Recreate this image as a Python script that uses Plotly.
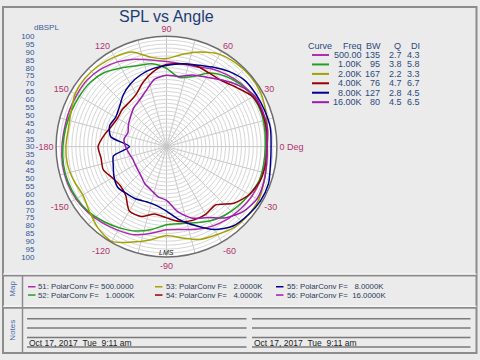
import plotly.graph_objects as go

W, H = 480, 360

# ---------------- data ----------------
angles = list(range(0, 360, 10))  # degrees, 0 = front, counter-clockwise

spl_500 = [93.2, 93.8, 94.4, 93.8, 92.0, 89.5, 87.0, 83.9, 83.3, 83.9, 85.8, 88.9,
           92.0, 94.4, 95.7, 95.7, 95.7, 95.7, 96.3, 96.9, 96.9, 96.3, 95.0, 93.2,
           91.3, 89.5, 85.8, 82.7, 83.3, 85.8, 88.2, 90.1, 91.3, 92.6, 93.2, 93.2]
spl_1k = [92.6, 93.2, 93.8, 93.2, 91.3, 88.2, 83.9, 77.1, 74.6, 79.6, 83.3, 84.5,
          87.6, 91.3, 93.2, 93.8, 94.4, 95.0, 95.7, 96.3, 96.3, 95.7, 94.4, 92.0,
          89.5, 87.0, 83.3, 79.6, 79.6, 81.4, 84.5, 87.0, 88.9, 90.7, 92.6, 92.6]
spl_2k = [93.8, 95.0, 96.9, 98.8, 99.4, 98.8, 97.5, 93.8, 89.5, 85.8, 87.6, 93.8,
          95.7, 96.9, 97.5, 96.9, 94.4, 93.2, 93.8, 93.8, 92.6, 91.3, 93.8, 97.5,
          99.4, 94.4, 90.1, 86.4, 88.9, 92.6, 94.4, 96.9, 97.5, 97.5, 95.7, 94.4]
spl_4k = [93.8, 94.4, 94.4, 93.2, 88.2, 84.5, 83.9, 84.5, 83.3, 82.0, 78.3, 73.4,
          68.4, 66.6, 66.6, 65.9, 67.2, 70.3, 73.4, 72.1, 72.7, 69.6, 68.4, 70.3,
          77.1, 77.1, 73.4, 75.2, 78.3, 79.6, 79.6, 78.3, 85.8, 90.7, 93.2, 93.8]
spl_8k = [96.3, 96.9, 96.3, 95.7, 95.0, 92.0, 88.2, 85.1, 83.3, 81.4, 80.2, 78.3,
          75.8, 72.7, 69.0, 67.2, 68.4, 65.9, 53.5, 64.1, 65.9, 68.4, 70.3, 69.0,
          68.4, 67.2, 67.8, 70.9, 77.1, 83.3, 90.7, 95.7, 97.5, 98.8, 98.8, 96.9]
spl_16k = [93.8, 95.0, 95.0, 94.4, 90.1, 85.1, 80.8, 78.3, 75.2, 75.2, 73.4, 67.8,
           64.1, 62.2, 59.7, 57.9, 56.0, 57.3, 56.0, 54.2, 52.9, 52.9, 53.5, 54.8,
           57.3, 59.1, 62.2, 64.1, 72.1, 78.3, 82.0, 88.9, 93.8, 96.3, 95.7, 94.4]

series = [spl_500, spl_1k, spl_2k, spl_4k, spl_8k, spl_16k]
colors = ["#b02cb0", "#22a022", "#a3a300", "#960000", "#000088", "#9c1ab0"]
map_names = ["51: PolarConv F= 500.0000", "52: PolarConv F=   1.0000K",
             "53: PolarConv F=   2.0000K", "54: PolarConv F=   4.0000K",
             "55: PolarConv F=   8.0000K", "56: PolarConv F=  16.0000K"]
freq_labels = ["500.00", "1.00K", "2.00K", "4.00K", "8.00K", "16.00K"]
bw = [135, 95, 167, 76, 127, 80]
q = [2.7, 3.8, 2.2, 4.7, 2.8, 4.5]
di = [4.3, 5.8, 3.3, 6.7, 4.5, 6.5]

angle_tickvals = list(range(0, 360, 15))
angle_ticktext = ["0 Deg", "", "30", "", "60", "", "90", "", "120", "", "150", "",
                  "-180", "", "-150", "", "-120", "", "-90", "", "-60", "", "-30", ""]
radial_offsets = list(range(-70, 75, 5))
radial_labels = [str(30 + abs(v)) for v in radial_offsets]
date_text = "Oct 17, 2017\u00a0\u00a0Tue\u00a0\u00a09:11 am"

FONT = "Liberation Sans, Arial, sans-serif"


def px(x):
    return x / W


def py(y):
    return 1 - y / H


fig = go.Figure()

for vals, col in zip(series, colors):
    fig.add_trace(go.Scatterpolar(
        r=vals + [vals[0]], theta=angles + [360], mode="lines",
        line=dict(color=col, width=1.5, shape="spline", smoothing=0.7),
        showlegend=False, hoverinfo="skip"))

# dummy cartesian trace to host the dB label column
fig.add_trace(go.Scatter(x=[None], y=[None], showlegend=False, hoverinfo="skip"))

pol_x = [px(53.3), px(279.7)]
pol_y = [py(259.5), py(33)]

annotations = []


def txt(x, y, s, size=9, color="#2c4a7c", xanchor="left", angle=0, yanchor="middle"):
    annotations.append(dict(x=px(x), y=py(y), xref="paper", yref="paper", text=s,
                            showarrow=False, xanchor=xanchor, yanchor=yanchor,
                            textangle=angle, borderpad=0,
                            font=dict(family=FONT, size=size, color=color)))


txt(166, 13, "SPL vs Angle", size=16, color="#1e3c78", xanchor="center")
txt(33, 24, "dBSPL", size=8, color="#3a5a9a")
txt(166, 255, "<i>LMS</i>", size=7, color="#111111", xanchor="center")

# table legend
tc = "#2c4a7c"
txt(307, 42.7, "Curve", size=9, color=tc)
txt(362.7, 42.7, "Freq", size=9, color=tc, xanchor="right")
txt(381.7, 42.7, "BW", size=9, color=tc, xanchor="right")
txt(401.5, 42.7, "Q", size=9, color=tc, xanchor="right")
txt(421, 42.7, "DI", size=9, color=tc, xanchor="right")
shapes = []
row_y = [52.3, 62, 71.7, 81.3, 91, 100.7]
for i in range(6):
    y = row_y[i]
    shapes.append(dict(type="line", xref="paper", yref="paper", x0=px(312), x1=px(329),
                       y0=py(y), y1=py(y), line=dict(color=colors[i], width=2)))
    txt(362.7, y, freq_labels[i], size=9, color=tc, xanchor="right")
    txt(381.2, y, str(bw[i]), size=9, color=tc, xanchor="right")
    txt(402.5, y, f"{q[i]:.1f}", size=9, color=tc, xanchor="right")
    txt(421, y, f"{di[i]:.1f}", size=9, color=tc, xanchor="right")

# Map section
map_pos = [(28, 37, 290), (28, 37, 298.5), (155, 165, 290), (155, 165, 298.5),
           (276, 285.5, 290), (276, 285.5, 298.5)]
for i, (lx, tx, y) in enumerate(map_pos):
    shapes.append(dict(type="line", xref="paper", yref="paper", x0=px(lx), x1=px(lx + 7.5),
                       y0=py(y), y1=py(y), line=dict(color=colors[i], width=1.5)))
    txt(tx, y, map_names[i].replace(" ", "\u00a0"), size=7.8, color="#2a3a5a")

txt(13, 292, "Map", size=8, color="#4a6aa8", xanchor="center", angle=-90)
txt(13, 335, "Notes", size=8, color="#4a6aa8", xanchor="center", angle=-90)

# Notes lines and dates
for x0, x1 in [(27, 246.5), (252, 470.5)]:
    for y in [322.7, 332.2, 342, 351.7]:
        shapes.append(dict(type="line", xref="paper", yref="paper", x0=px(x0), x1=px(x1),
                           y0=py(y), y1=py(y), line=dict(color="#7a7a7a", width=1.5)))
    txt(x0 + 0.5, 348, date_text, size=8.5, color="#222222")

# frame and separators
frame = "#8c8c8c"
shapes.append(dict(type="rect", xref="paper", yref="paper", x0=px(3), x1=px(476.5),
                   y0=py(358), y1=py(3), line=dict(color=frame, width=2)))
for y in [278.5, 311.5]:
    shapes.append(dict(type="line", xref="paper", yref="paper", x0=px(3), x1=px(476.5),
                       y0=py(y), y1=py(y), line=dict(color=frame, width=2)))
    shapes.append(dict(type="line", xref="paper", yref="paper", x0=px(3), x1=px(476.5),
                       y0=py(y - 1.5), y1=py(y - 1.5), line=dict(color="#ffffff", width=1)))
shapes.append(dict(type="line", xref="paper", yref="paper", x0=px(22.5), x1=px(22.5),
                   y0=py(358), y1=py(278.5), line=dict(color=frame, width=1.5)))

fig.update_layout(
    width=W, height=H, autosize=False,
    margin=dict(l=0, r=0, t=0, b=0),
    paper_bgcolor="#ebebeb",
    font=dict(family=FONT),
    polar=dict(
        domain=dict(x=pol_x, y=pol_y),
        bgcolor="#ffffff",
        radialaxis=dict(range=[30, 100], tickmode="linear", tick0=30, dtick=2.5,
                        showticklabels=False, ticks="", showline=False,
                        gridcolor="#d6d6d6", gridwidth=1),
        angularaxis=dict(tickmode="array", tickvals=angle_tickvals, ticktext=angle_ticktext,
                         rotation=0, direction="counterclockwise", ticks="",
                         gridcolor="#c6c6c6", gridwidth=1,
                         showline=True, linecolor="#6e6e6e", linewidth=1.5,
                         tickfont=dict(family=FONT, size=9, color="#b0336b")),
    ),
    xaxis=dict(domain=[px(35.5), px(40)], range=[0, 1], visible=False, fixedrange=True),
    yaxis=dict(domain=pol_y, range=[-70, 70], tickmode="array", tickvals=radial_offsets,
               ticktext=radial_labels, showgrid=False, zeroline=False, showline=False,
               ticks="", tickfont=dict(family=FONT, size=8, color="#2e5597"),
               fixedrange=True),
    annotations=annotations,
    shapes=shapes,
    showlegend=False,
)

fig.write_html(
    "out.html",
    config={"displayModeBar": False},
    post_script="document.body.style.margin='0px';document.body.style.overflow='hidden';",
)
